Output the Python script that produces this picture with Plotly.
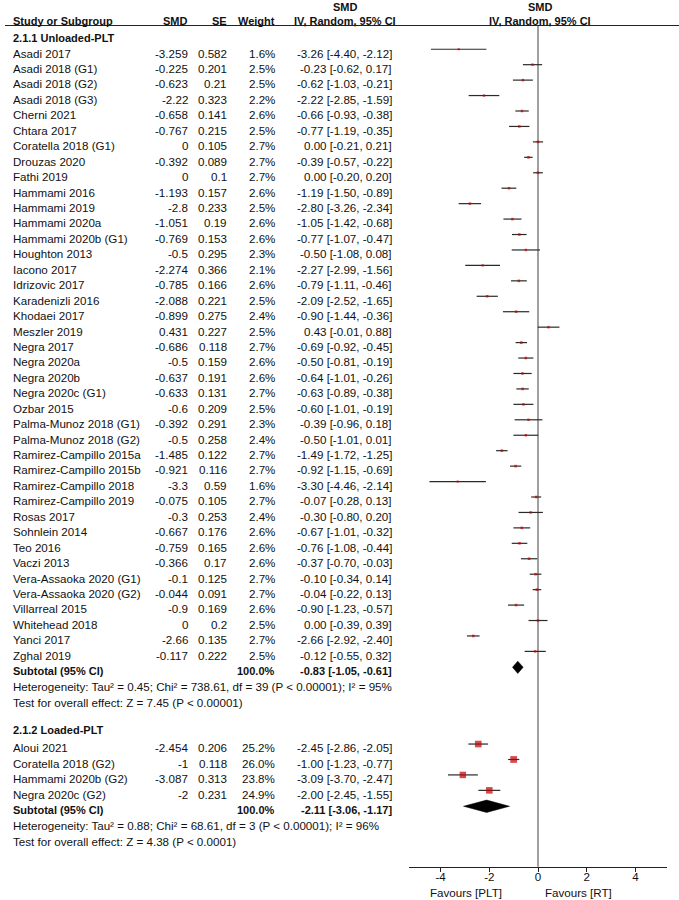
import plotly.graph_objects as go

# ---- data: 2.1.1 Unloaded-PLT ----
studies_u = [
    "Asadi 2017", "Asadi 2018 (G1)", "Asadi 2018 (G2)", "Asadi 2018 (G3)",
    "Cherni 2021", "Chtara 2017", "Coratella 2018 (G1)", "Drouzas 2020",
    "Fathi 2019", "Hammami 2016", "Hammami 2019", "Hammami 2020a",
    "Hammami 2020b (G1)", "Houghton 2013", "Iacono 2017", "Idrizovic 2017",
    "Karadenizli 2016", "Khodaei 2017", "Meszler 2019", "Negra 2017",
    "Negra 2020a", "Negra 2020b", "Negra 2020c (G1)", "Ozbar 2015",
    "Palma-Munoz 2018 (G1)", "Palma-Munoz 2018 (G2)", "Ramirez-Campillo 2015a",
    "Ramirez-Campillo 2015b", "Ramirez-Campillo 2018", "Ramirez-Campillo 2019",
    "Rosas 2017", "Sohnlein 2014", "Teo 2016", "Vaczi 2013",
    "Vera-Assaoka 2020 (G1)", "Vera-Assaoka 2020 (G2)", "Villarreal 2015",
    "Whitehead 2018", "Yanci 2017", "Zghal 2019",
]
smd_u = [
    -3.259, -0.225, -0.623, -2.22, -0.658, -0.767, 0, -0.392, 0, -1.193,
    -2.8, -1.051, -0.769, -0.5, -2.274, -0.785, -2.088, -0.899, 0.431, -0.686,
    -0.5, -0.637, -0.633, -0.6, -0.392, -0.5, -1.485, -0.921, -3.3, -0.075,
    -0.3, -0.667, -0.759, -0.366, -0.1, -0.044, -0.9, 0, -2.66, -0.117,
]
se_u = [
    0.582, 0.201, 0.21, 0.323, 0.141, 0.215, 0.105, 0.089, 0.1, 0.157,
    0.233, 0.19, 0.153, 0.295, 0.366, 0.166, 0.221, 0.275, 0.227, 0.118,
    0.159, 0.191, 0.131, 0.209, 0.291, 0.258, 0.122, 0.116, 0.59, 0.105,
    0.253, 0.176, 0.165, 0.17, 0.125, 0.091, 0.169, 0.2, 0.135, 0.222,
]
weight_u = [
    1.6, 2.5, 2.5, 2.2, 2.6, 2.5, 2.7, 2.7, 2.7, 2.6,
    2.5, 2.6, 2.6, 2.3, 2.1, 2.6, 2.5, 2.4, 2.5, 2.7,
    2.6, 2.6, 2.7, 2.5, 2.3, 2.4, 2.7, 2.7, 1.6, 2.7,
    2.4, 2.6, 2.6, 2.6, 2.7, 2.7, 2.6, 2.5, 2.7, 2.5,
]
est_u = [
    -3.26, -0.23, -0.62, -2.22, -0.66, -0.77, 0.00, -0.39, 0.00, -1.19,
    -2.80, -1.05, -0.77, -0.50, -2.27, -0.79, -2.09, -0.90, 0.43, -0.69,
    -0.50, -0.64, -0.63, -0.60, -0.39, -0.50, -1.49, -0.92, -3.30, -0.07,
    -0.30, -0.67, -0.76, -0.37, -0.10, -0.04, -0.90, 0.00, -2.66, -0.12,
]
lo_u = [
    -4.40, -0.62, -1.03, -2.85, -0.93, -1.19, -0.21, -0.57, -0.20, -1.50,
    -3.26, -1.42, -1.07, -1.08, -2.99, -1.11, -2.52, -1.44, -0.01, -0.92,
    -0.81, -1.01, -0.89, -1.01, -0.96, -1.01, -1.72, -1.15, -4.46, -0.28,
    -0.80, -1.01, -1.08, -0.70, -0.34, -0.22, -1.23, -0.39, -2.92, -0.55,
]
hi_u = [
    -2.12, 0.17, -0.21, -1.59, -0.38, -0.35, 0.21, -0.22, 0.20, -0.89,
    -2.34, -0.68, -0.47, 0.08, -1.56, -0.46, -1.65, -0.36, 0.88, -0.45,
    -0.19, -0.26, -0.38, -0.19, 0.18, 0.01, -1.25, -0.69, -2.14, 0.13,
    0.20, -0.32, -0.44, -0.03, 0.14, 0.13, -0.57, 0.39, -2.40, 0.32,
]
sub_u = (-0.83, -1.05, -0.61)
het_u = "Heterogeneity: Tau² = 0.45; Chi² = 738.61, df = 39 (P < 0.00001); I² = 95%"
test_u = "Test for overall effect: Z = 7.45 (P < 0.00001)"

# ---- data: 2.1.2 Loaded-PLT ----
studies_l = ["Aloui 2021", "Coratella 2018 (G2)", "Hammami 2020b (G2)", "Negra 2020c (G2)"]
smd_l = [-2.454, -1, -3.087, -2]
se_l = [0.206, 0.118, 0.313, 0.231]
weight_l = [25.2, 26.0, 23.8, 24.9]
est_l = [-2.45, -1.00, -3.09, -2.00]
lo_l = [-2.86, -1.23, -3.70, -2.45]
hi_l = [-2.05, -0.77, -2.47, -1.55]
sub_l = (-2.11, -3.06, -1.17)
het_l = "Heterogeneity: Tau² = 0.88; Chi² = 68.61, df = 3 (P < 0.00001); I² = 96%"
test_l = "Test for overall effect: Z = 4.38 (P < 0.0001)"

tick_vals = [-4, -2, 0, 2, 4]

# ---- layout helpers ----
W, H = 679, 900
ROW0, PITCH = 53.1, 15.44  # text-centre of row r at pixel ROW0 + PITCH*r
FONT = "Arial, Liberation Sans, sans-serif"
FS, FS_BOLD = 11.6, 11
TXT = "#111111"
RED = "#C00000"
MARK_OFF = 0.25  # marks sit a little above the text centre


def row_of(px):
    return (px - ROW0) / PITCH


def fmt_ci(e, lo, hi):
    return f"{e:.2f} [{lo:.2f}, {hi:.2f}]"


rows_u = list(range(len(studies_u)))
sub_row_u = len(studies_u)
rows_l = [45 + i for i in range(len(studies_l))]
sub_row_l = 49

annotations = []


def txt(x, row, s, anchor="left", bold=False):
    annotations.append(dict(
        x=x / W, xref="paper", y=row, yref="y", text=f"<b>{s}</b>" if bold else s,
        xanchor=anchor, yanchor="middle", showarrow=False,
        font=dict(family=FONT, size=FS_BOLD if bold else FS, color=TXT),
    ))


# header
txt(345, row_of(6.5), "SMD", "center", True)
txt(540, row_of(6.5), "SMD", "center", True)
txt(11, row_of(20.7), "Study or Subgroup", bold=True)
txt(190, row_of(20.7), "SMD", "right", True)
txt(228.7, row_of(20.7), "SE", "right", True)
txt(276.7, row_of(20.7), "Weight", "right", True)
txt(345, row_of(20.7), "IV, Random, 95% CI", "center", True)
txt(540, row_of(20.7), "IV, Random, 95% CI", "center", True)


def table_block(title, title_row, studies, smd, se, weight, est, lo, hi, rows, sub, sub_row, het, test):
    txt(11, title_row, title, bold=True)
    for i, r in enumerate(rows):
        txt(11, r, studies[i])
        txt(190, r, f"{smd[i]:g}", "right")
        txt(228.7, r, f"{se[i]:g}", "right")
        txt(276.7, r, f"{weight[i]:.1f}%", "right")
        txt(394.3, r, fmt_ci(est[i], lo[i], hi[i]), "right")
    txt(11, sub_row, "Subtotal (95% CI)", bold=True)
    txt(276.7, sub_row, "100.0%", "right", True)
    txt(394.3, sub_row, fmt_ci(*sub), "right", True)
    txt(11, sub_row + 1.03, het)
    txt(11, sub_row + 2.05, test)


table_block("2.1.1 Unloaded-PLT", -1, studies_u, smd_u, se_u, weight_u, est_u,
            lo_u, hi_u, rows_u, sub_u, sub_row_u, het_u, test_u)
table_block("2.1.2 Loaded-PLT", 43.85, studies_l, smd_l, se_l, weight_l, est_l,
            lo_l, hi_l, rows_l, sub_l, sub_row_l, het_l, test_l)

# favours labels
for label, x, anchor in [("Favours [PLT]", 504, "right"), ("Favours [RT]", 543, "left")]:
    annotations.append(dict(x=x / W, xref="paper", y=1 - 892 / H, yref="paper",
                            text=label, xanchor=anchor, yanchor="middle",
                            showarrow=False, font=dict(family=FONT, size=FS, color=TXT)))

fig = go.Figure()

# whiskers
all_lo = lo_u + lo_l
all_hi = hi_u + hi_l
all_rows = rows_u + rows_l
wx, wy = [], []
for lo, hi, r in zip(all_lo, all_hi, all_rows):
    wx += [lo, hi, None]
    wy += [r - MARK_OFF, r - MARK_OFF, None]
fig.add_scatter(x=wx, y=wy, mode="lines", line=dict(color="#2a2a2a", width=1.2),
                hoverinfo="skip", showlegend=False)

# study squares, grow with weight
all_smd = smd_u + smd_l
all_w = weight_u + weight_l
fig.add_scatter(
    x=all_smd, y=[r - MARK_OFF for r in all_rows], mode="markers",
    marker=dict(symbol="square", color=RED, size=[1.2 * w ** 0.5 + 0.6 for w in all_w],
                line=dict(width=0)),
    showlegend=False,
)

# subtotal diamonds
for (e, lo, hi), r in [(sub_u, sub_row_u), (sub_l, sub_row_l)]:
    yc = r - 0.22
    h = 0.4
    fig.add_scatter(x=[lo, e, hi, e, lo], y=[yc, yc - h, yc, yc + h, yc],
                    mode="lines", fill="toself", fillcolor="black",
                    line=dict(color="black", width=0.5), showlegend=False)

shapes = [
    # header rule
    dict(type="line", xref="paper", yref="y", x0=5 / W, x1=1, y0=row_of(25.5), y1=row_of(25.5),
         line=dict(color="#222222", width=1)),
    # line of no effect
    dict(type="line", xref="x", yref="y", x0=0, x1=0, y0=row_of(25.5), y1=row_of(866.7),
         line=dict(color="#808080", width=1.5), layer="below"),
]

fig.update_layout(
    width=W, height=H,
    margin=dict(l=0, r=0, t=0, b=0),
    paper_bgcolor="white", plot_bgcolor="white",
    annotations=annotations, shapes=shapes,
    xaxis=dict(
        domain=[409 / W, 667 / W], range=[-5.3, 5.3], anchor="free",
        position=1 - 866.7 / H, showgrid=False, zeroline=False,
        showline=True, linecolor="#222222", linewidth=1,
        ticks="outside", ticklen=4, tickcolor="#222222",
        ticklabelstandoff=-5,
        tickvals=tick_vals, ticktext=[str(v) for v in tick_vals],
        tickfont=dict(family=FONT, size=FS, color=TXT),
    ),
    yaxis=dict(domain=[0, 1], range=[row_of(H), row_of(0)], visible=False),
)

# drop the default body margin so the figure fills the window from 0,0
fig.write_html("out.html", config={"displayModeBar": False},
               post_script="document.body.style.margin = '0';")
